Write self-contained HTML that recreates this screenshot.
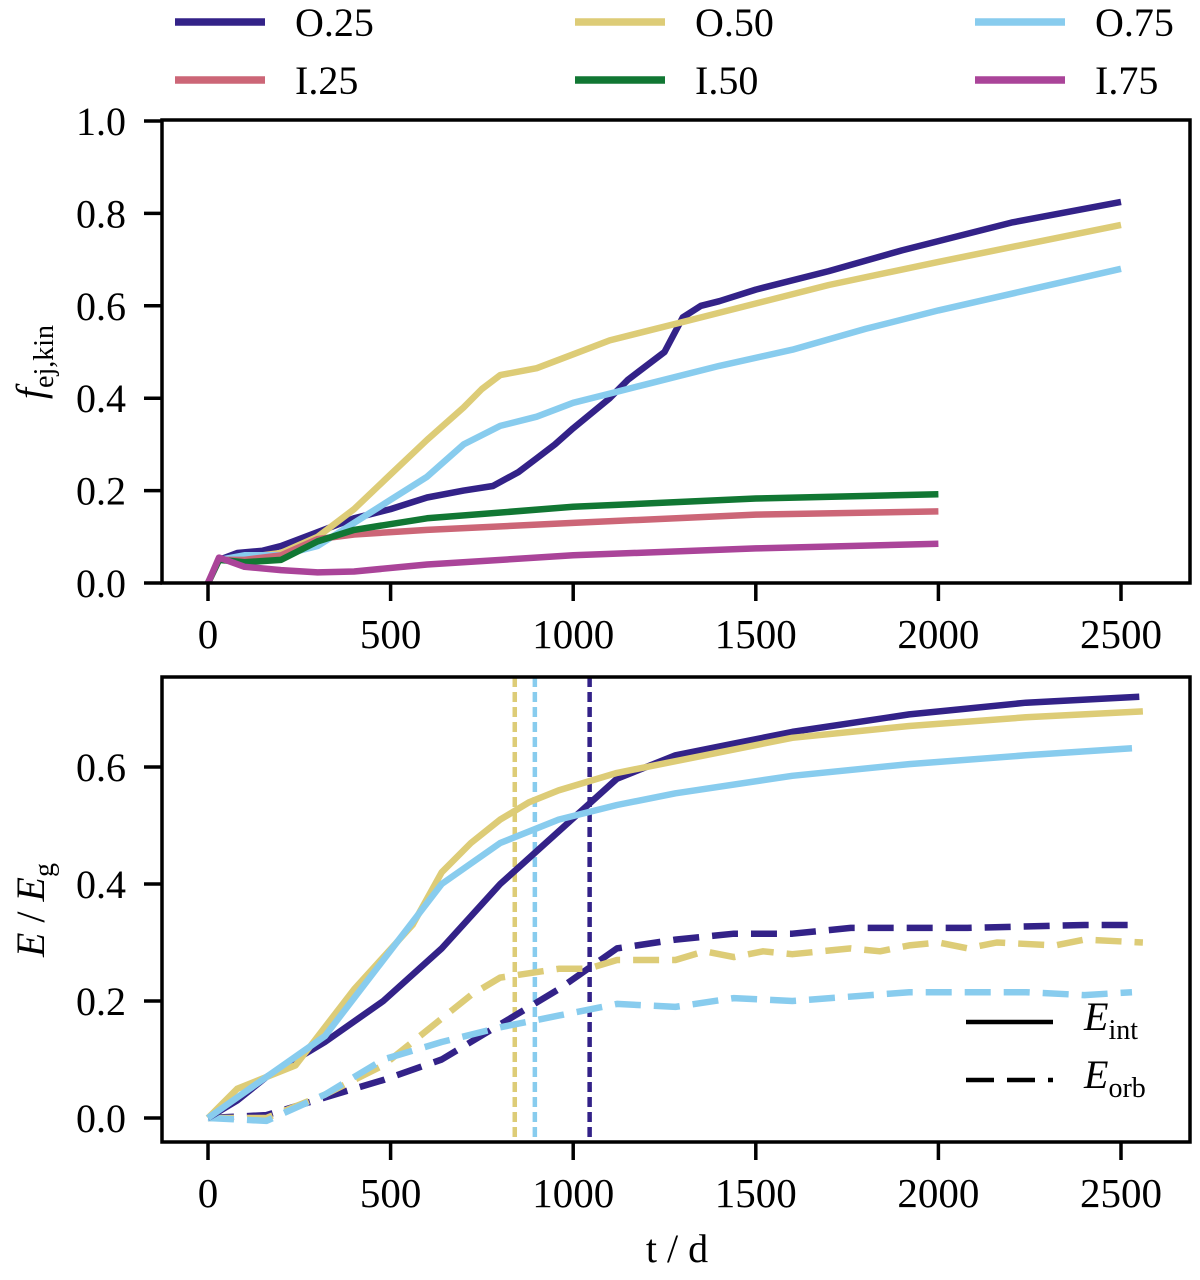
<!DOCTYPE html>
<html><head><meta charset="utf-8"><style>
body{margin:0;background:#fff}
svg text{font-family:"Liberation Serif","DejaVu Serif",serif;fill:#000}
</style></head><body>
<svg id="chart" width="1200" height="1275" viewBox="0 0 1200 1275" xmlns="http://www.w3.org/2000/svg">
<g id="legendTop"></g>
<g id="p1"></g>
<g id="p2"></g>
</svg>
<script>
const colors={"O.25":"#332288","O.50":"#DDCC77","O.75":"#88CCEE","I.25":"#CC6677","I.50":"#117733","I.75":"#AA4499"};
const legendLabels=["O.25","O.50","O.75","I.25","I.50","I.75"];
const xTicks=[0,500,1000,1500,2000,2500];
const yTicksTop=[0,0.2,0.4,0.6,0.8,1.0];
const yTicksBot=[0,0.2,0.4,0.6];
const topT={
"O.25":[0,30,80,150,200,300,400,500,600,700,780,850,900,950,1000,1100,1150,1250,1300,1350,1400,1500,1700,1900,2000,2200,2500],
"O.50":[0,30,100,200,300,400,500,600,700,750,800,900,1000,1100,1200,1300,1500,1700,2000,2250,2500],
"O.75":[0,30,100,200,300,400,500,600,700,800,900,1000,1100,1200,1400,1600,1800,2000,2250,2500],
"I.25":[0,30,100,200,300,400,600,1000,1500,2000],
"I.50":[0,30,100,200,300,400,600,1000,1500,2000],
"I.75":[0,30,100,200,300,400,600,1000,1500,2000]};
const topV={
"O.25":[0,0.05,0.065,0.07,0.08,0.11,0.14,0.16,0.185,0.2,0.21,0.24,0.27,0.3,0.335,0.4,0.44,0.5,0.575,0.6,0.61,0.635,0.675,0.72,0.74,0.78,0.825],
"O.50":[0,0.05,0.055,0.065,0.1,0.16,0.235,0.31,0.38,0.42,0.45,0.465,0.495,0.525,0.545,0.565,0.605,0.645,0.695,0.735,0.775],
"O.75":[0,0.05,0.06,0.06,0.08,0.13,0.18,0.23,0.3,0.34,0.36,0.39,0.41,0.43,0.47,0.505,0.55,0.59,0.635,0.68],
"I.25":[0,0.05,0.05,0.06,0.095,0.105,0.115,0.13,0.148,0.155],
"I.50":[0,0.05,0.045,0.05,0.09,0.115,0.14,0.165,0.183,0.192],
"I.75":[0,0.055,0.035,0.028,0.023,0.025,0.04,0.06,0.075,0.085]};
const intT={
"O.25":[0,80,160,320,480,640,800,960,1120,1280,1440,1600,1920,2240,2550],
"O.50":[0,80,240,400,560,640,720,800,880,960,1120,1280,1600,1920,2240,2560],
"O.75":[0,160,320,480,640,800,960,1120,1280,1600,1920,2240,2530]};
const intV={
"O.25":[0,0.03,0.07,0.13,0.2,0.29,0.4,0.49,0.58,0.62,0.64,0.66,0.69,0.71,0.72],
"O.50":[0,0.05,0.09,0.22,0.33,0.42,0.47,0.51,0.54,0.56,0.59,0.61,0.65,0.67,0.685,0.695],
"O.75":[0,0.07,0.14,0.27,0.4,0.47,0.51,0.535,0.555,0.585,0.605,0.62,0.632]};
const orbT={
"O.25":[0,160,320,480,640,800,960,1120,1280,1440,1600,1760,2080,2400,2530],
"O.50":[0,160,320,480,560,640,720,800,960,1040,1120,1280,1360,1440,1520,1600,1760,1840,1920,2000,2080,2160,2320,2400,2560],
"O.75":[0,160,320,480,640,800,960,1040,1120,1280,1440,1600,1920,2240,2400,2530]};
const orbV={
"O.25":[0,0.005,0.035,0.065,0.1,0.16,0.22,0.29,0.305,0.315,0.315,0.325,0.325,0.33,0.33],
"O.50":[0,0,0.04,0.09,0.13,0.17,0.21,0.24,0.255,0.255,0.27,0.27,0.285,0.275,0.285,0.28,0.29,0.285,0.295,0.3,0.29,0.3,0.295,0.305,0.3],
"O.75":[0,-0.005,0.04,0.1,0.13,0.155,0.175,0.185,0.195,0.19,0.205,0.2,0.215,0.215,0.21,0.215]};
const vLines=[["O.50",840],["O.75",895],["O.25",1045]];

const NS="http://www.w3.org/2000/svg";
function mk(parent,tag,attrs){const e=document.createElementNS(NS,tag);for(const k in attrs)e.setAttribute(k,attrs[k]);parent.appendChild(e);return e;}
const FL=162, FR=1190;
const x=t=>208+t*(913/2500);
const yTop=v=>583-v*462;
const yBot=v=>1118-v*585;

function axes(g,top,bot,yf,yt,name){
  const fr=mk(g,'rect',{x:FL,y:top,width:FR-FL,height:bot-top,fill:'none',stroke:'#000','stroke-width':3.5});
  
  xTicks.forEach(t=>{
    const l=mk(g,'line',{x1:x(t),x2:x(t),y1:bot,y2:bot+18,stroke:'#000','stroke-width':3.5});
    
    const tx=mk(g,'text',{x:x(t),y:bot+65,'font-size':41,'text-anchor':'middle'});tx.textContent=t;
    
  });
  yt.forEach(v=>{
    const l=mk(g,'line',{x1:144,x2:FL,y1:yf(v),y2:yf(v),stroke:'#000','stroke-width':3.5});
    
    const tx=mk(g,'text',{x:126,y:yf(v)+14,'font-size':40,'text-anchor':'end'});tx.textContent=v.toFixed(1);
    
  });
}
function line(g,T,V,yf,col,dash,name){
  const d=T.map((t,i)=>(i?'L':'M')+x(t).toFixed(1)+','+yf(V[i]).toFixed(1)).join('');
  const p=mk(g,'path',{d:d,fill:'none',stroke:col,'stroke-width':6.5,'stroke-linejoin':'round'});
  if(dash)p.setAttribute('stroke-dasharray',dash);
  
}
const lg=document.getElementById('legendTop');
legendLabels.forEach((lab,i)=>{
  const cx=175+(i%3)*400, cy=22+Math.floor(i/3)*58;
  const l=mk(lg,'line',{x1:cx,x2:cx+90,y1:cy,y2:cy,stroke:colors[lab],'stroke-width':7.5});
  
  const t=mk(lg,'text',{x:cx+120,y:cy+14,'font-size':40});t.textContent=lab;
  
});
const g1=document.getElementById('p1');
const cl1=mk(g1,'clipPath',{id:'c1'});mk(cl1,'rect',{x:FL,y:120,width:FR-FL,height:463});
const s1=mk(g1,'g',{'clip-path':'url(#c1)'});
["O.25","O.50","O.75","I.25","I.50","I.75"].forEach(k=>line(s1,topT[k],topV[k],yTop,colors[k],null,'line-'+k));
axes(g1,120,583,yTop,yTicksTop,'top-axes');
const yl1=mk(g1,'text',{transform:'translate(44,362) rotate(-90)','font-size':40,'text-anchor':'middle'});
yl1.innerHTML='<tspan font-style="italic">f</tspan><tspan font-size="28" dy="9">ej,kin</tspan>';

const g2=document.getElementById('p2');
const cl2=mk(g2,'clipPath',{id:'c2'});mk(cl2,'rect',{x:FL,y:677,width:FR-FL,height:465});
const s2=mk(g2,'g',{'clip-path':'url(#c2)'});
vLines.forEach(([k,t])=>{const l=mk(s2,'line',{x1:x(t),x2:x(t),y1:677,y2:1142,stroke:colors[k],'stroke-width':4.5,'stroke-dasharray':'10,5'});
  });
["O.25","O.50","O.75"].forEach(k=>line(s2,orbT[k],orbV[k],yBot,colors[k],'26,13','orb-'+k));
["O.25","O.50","O.75"].forEach(k=>line(s2,intT[k],intV[k],yBot,colors[k],null,'int-'+k));
axes(g2,677,1142,yBot,yTicksBot,'bottom-axes');
const yl2=mk(g2,'text',{transform:'translate(44,910) rotate(-90)','font-size':40,'text-anchor':'middle'});
yl2.innerHTML='<tspan font-style="italic">E</tspan> / <tspan font-style="italic">E</tspan><tspan font-size="28" dy="9">g</tspan>';

const xl=mk(g2,'text',{x:677,y:1262,'font-size':40,'text-anchor':'middle'});xl.textContent='t / d';

[['','E','int',1022],['28,13','E','orb',1080]].forEach(([d,a,b,yy])=>{
  const l=mk(g2,'line',{x1:966,x2:1053,y1:yy,y2:yy,stroke:'#000','stroke-width':4.5});
  if(d)l.setAttribute('stroke-dasharray',d);
  
  const t=mk(g2,'text',{x:1084,y:yy+8,'font-size':40});
  t.innerHTML='<tspan font-style="italic">'+a+'</tspan><tspan font-size="28" dy="9">'+b+'</tspan>';
  
});
</script>
</body></html>
